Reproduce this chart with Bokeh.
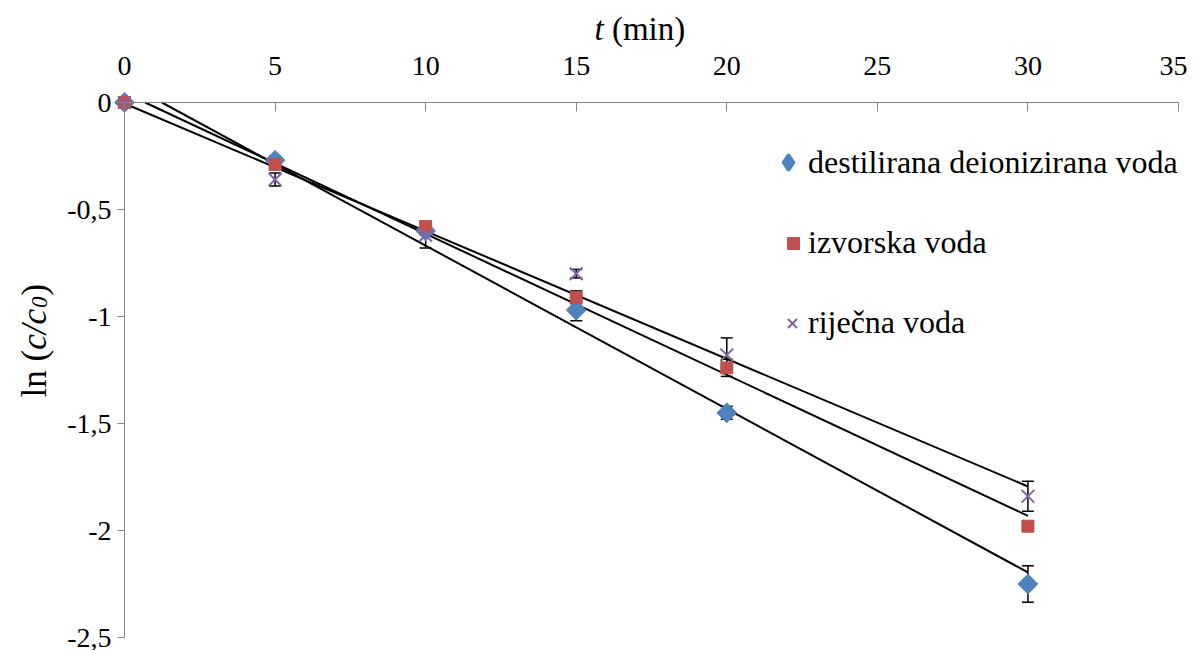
import numpy as np
from bokeh.plotting import figure
from bokeh.models import (ColumnDataSource, Whisker, TeeHead, Legend, LegendItem, Label,
                          FixedTicker, Range1d)
from bokeh.embed import file_html
from bokeh.resources import INLINE

# ---------------- data ----------------
t_min = [0, 5, 10, 15, 20, 30]
series_names = ["destilirana deionizirana voda", "izvorska voda", "riječna voda"]
ln_destilirana = [0.0, -0.27, -0.60, -0.97, -1.45, -2.25]
ln_izvorska = [0.0, -0.29, -0.58, -0.91, -1.24, -1.98]
ln_rijecna = [0.0, -0.36, -0.62, -0.80, -1.18, -1.84]
err_destilirana = [0.02, 0.02, 0.02, 0.05, 0.03, 0.085]
err_izvorska = [0.01, 0.01, 0.02, 0.03, 0.04, 0.01]
err_rijecna = [0.01, 0.03, 0.06, 0.02, 0.08, 0.07]

x_ticks = [0, 5, 10, 15, 20, 25, 30, 35]
y_ticks = [0.0, -0.5, -1.0, -1.5, -2.0, -2.5]
y_tick_labels = ["0", "-0,5", "-1", "-1,5", "-2", "-2,5"]

colors = ["#4F81BD", "#C0504D", "#8064A2"]
FONT = "Liberation Serif"

# ---------------- figure ----------------
W, H = 1187, 650
X0, Y0 = 124, 102          # pixel position of the data origin
PX_X, PX_Y = 30.114, 214.0  # pixels per unit

p = figure(frame_width=W, frame_height=H,
           x_range=Range1d(-X0 / PX_X, (W - X0) / PX_X),
           y_range=Range1d(-(H - Y0) / PX_Y, Y0 / PX_Y),
           x_axis_location="above", y_axis_location="left",
           output_backend="svg", toolbar_location=None,
           min_border=0)
p.grid.visible = False
p.outline_line_color = None
p.background_fill_color = "white"
p.border_fill_color = "white"

# axes (crossing at the origin)
xa = p.xaxis[0]
xa.fixed_location = 0
xa.bounds = (0, 35)
xa.ticker = FixedTicker(ticks=x_ticks)
xa.major_tick_in = 9
xa.major_tick_out = 0
xa.minor_tick_in = 0
xa.minor_tick_out = 0
xa.axis_line_color = "#868686"
xa.major_tick_line_color = "#868686"
xa.major_label_text_font = FONT
xa.major_label_text_font_size = "28px"
xa.major_label_text_color = "black"
xa.major_label_standoff = 28

ya = p.yaxis[0]
ya.fixed_location = 0
ya.bounds = (-2.5, 0)
ya.ticker = FixedTicker(ticks=y_ticks)
ya.major_label_overrides = {v: s for v, s in zip(y_ticks, y_tick_labels)}
ya.major_tick_in = 0
ya.major_tick_out = 7
ya.minor_tick_in = 0
ya.minor_tick_out = 0
ya.axis_line_color = "#868686"
ya.major_tick_line_color = "#868686"
ya.major_label_text_font = FONT
ya.major_label_text_font_size = "28px"
ya.major_label_text_color = "black"
ya.major_label_standoff = 6

series = [ln_destilirana, ln_izvorska, ln_rijecna]
errors = [err_destilirana, err_izvorska, err_rijecna]
t_arr = np.array(t_min, dtype=float)

# error bars (under markers)
for ys, es in zip(series, errors):
    yv = np.array(ys)
    ev = np.array(es)
    src = ColumnDataSource(dict(x=t_arr, lower=yv - ev, upper=yv + ev))
    w = Whisker(source=src, base="x", lower="lower", upper="upper", dimension="height",
                line_color="black", line_width=1.5, level="underlay",
                upper_head=TeeHead(size=12, line_color="black", line_width=1.5),
                lower_head=TeeHead(size=12, line_color="black", line_width=1.5))
    p.add_layout(w)

# linear trend lines (least-squares fit), clipped at ln = 0
for ys in series:
    m, b = np.polyfit(t_arr, np.array(ys), 1)
    xs = max(0.0, -b / m) if b > 0 else 0.0
    xe = t_arr.max()
    p.line([xs, xe], [m * xs + b, m * xe + b], line_color="black", line_width=2)

# markers
r1 = p.scatter(t_min, ln_destilirana, marker="square", angle=np.pi / 4, size=14,
               fill_color=colors[0], line_color=colors[0])
r2 = p.scatter(t_min, ln_izvorska, marker="square", size=12,
               fill_color=colors[1], line_color=colors[1])
r3 = p.scatter(t_min, ln_rijecna, marker="x", size=18, line_color=colors[2], line_width=2)

# legend proxy for the diamond (legend glyphs ignore angle)
r1_leg = p.scatter(t_min, ln_destilirana, marker="diamond", line_width=3,
                   fill_color=colors[0], line_color=colors[0], visible=False)

def make_legend(label, rend, gw, gh, center_y, text_x=808):
    left = text_x - gw
    bottom = center_y + gh / 2
    lg = Legend(items=[LegendItem(label=label, renderers=[rend])],
                location=(left, H - bottom),
                glyph_width=gw, glyph_height=gh, label_height=gh, label_standoff=0,
                padding=0, margin=0, spacing=0, border_line_color=None,
                background_fill_alpha=0, label_text_font=FONT,
                label_text_font_size="32px", label_text_color="black")
    p.add_layout(lg)

make_legend(series_names[0], r1_leg, 40, 50, 162)
make_legend(series_names[1], r2, 30, 36, 243)
make_legend(series_names[2], r3, 32, 36, 323)

# axis titles as rich pieces (Label baseline lands ~10px below the anchor)
def lab(x_px, y_px, text, italic=False, size=33, angle=0.0):
    xd = (x_px - X0) / PX_X
    yd = -(y_px - Y0) / PX_Y
    p.add_layout(Label(x=xd, y=yd, text=text, angle=angle, text_font=FONT,
                       text_font_style="italic" if italic else "normal",
                       text_font_size=f"{size}px", text_color="black",
                       text_align="left", text_baseline="alphabetic"))

# x title: t (min)
TX = 33
lab(594, 28, "t", italic=True, size=TX)
lab(594 + (0.278 + 0.25) * TX, 28, "(min)", size=TX)

# y title: ln (c/c0), rotated
TY = 35
yb = 397
lab(34, yb, "ln (", angle=np.pi / 2, size=TY)
yb -= 1.361 * TY
lab(34, yb, "c/c", italic=True, angle=np.pi / 2, size=TY)
yb -= 1.166 * TY + 1
lab(39, yb, "0", italic=True, size=23, angle=np.pi / 2)
yb -= 0.5 * 23 + 1
lab(34, yb, ")", angle=np.pi / 2, size=TY)

open("out.html", "w").write(file_html(p, INLINE))
